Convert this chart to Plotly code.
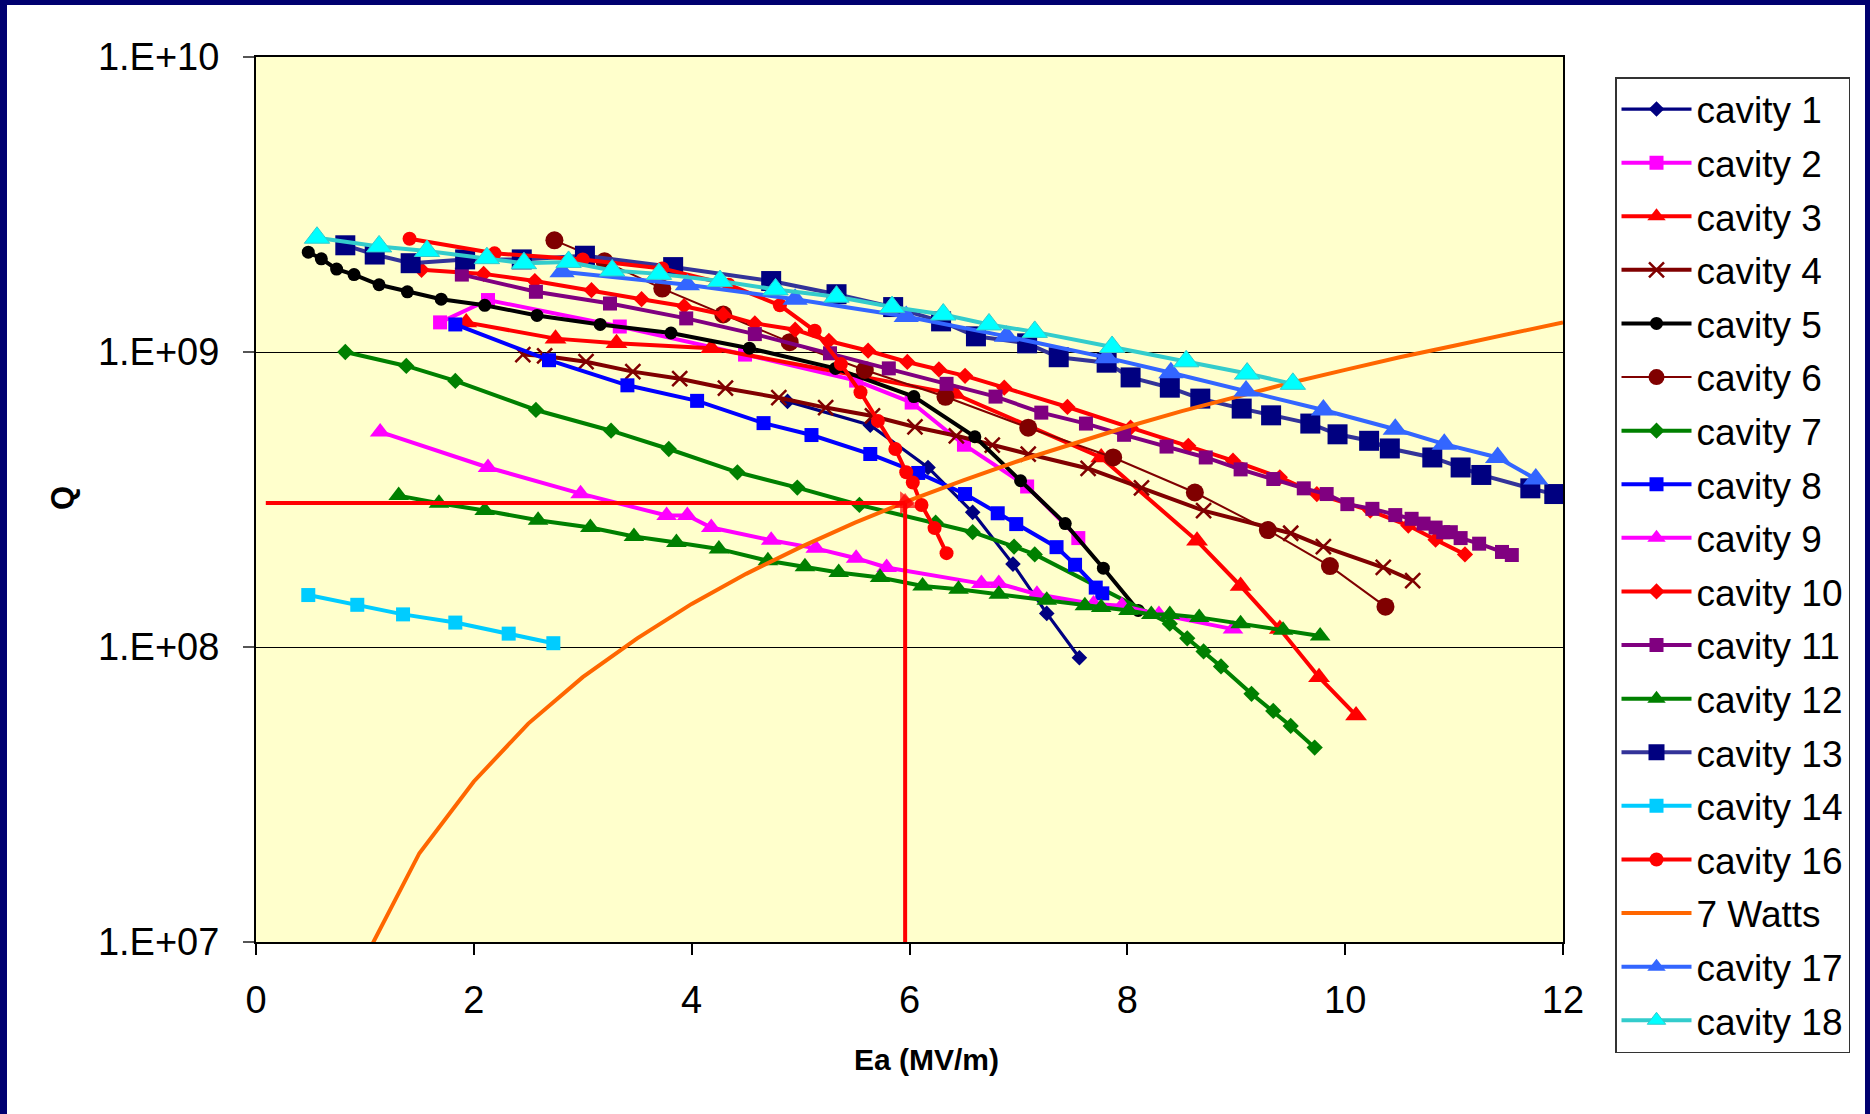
import plotly.graph_objects as go

# ---------------- data ----------------
cavity1_ea = [4.88, 5.64, 6.17, 6.58, 6.95, 7.26, 7.56]
cavity1_q = [6.8e8, 5.65e8, 4.06e8, 2.86e8, 1.91e8, 1.30e8, 9.2e7]

cavity2_ea = [1.69, 2.13, 3.34, 4.49, 5.51, 6.02, 6.50, 7.08, 7.55]
cavity2_q = [1.26e9, 1.50e9, 1.22e9, 9.8e8, 8.0e8, 6.74e8, 4.85e8, 3.5e8, 2.34e8]

cavity3_ea = [1.93, 2.75, 3.31, 4.18, 6.42, 7.76, 8.64, 9.04, 9.40, 9.76, 10.10]
cavity3_q = [1.26e9, 1.11e9, 1.07e9, 1.03e9, 7.2e8, 4.39e8, 2.29e8, 1.61e8, 1.15e8, 7.9e7, 5.86e7]

cavity4_ea = [2.45, 2.65, 3.03, 3.46, 3.89, 4.31, 4.80, 5.23, 5.66, 6.05, 6.43, 6.76,
              7.09, 7.64, 8.13, 8.70, 9.50, 9.80, 10.35, 10.62]
cavity4_q = [9.8e8, 9.7e8, 9.27e8, 8.58e8, 8.12e8, 7.54e8, 7.0e8, 6.48e8, 6.07e8, 5.57e8,
             5.2e8, 4.83e8, 4.51e8, 4.03e8, 3.46e8, 2.9e8, 2.43e8, 2.19e8, 1.86e8, 1.68e8]

cavity5_ea = [0.48, 0.60, 0.74, 0.90, 1.13, 1.39, 1.70, 2.10, 2.58, 3.16, 3.81, 4.53,
              5.32, 6.04, 6.60, 7.02, 7.43, 7.78, 8.10]
cavity5_q = [2.18e9, 2.07e9, 1.91e9, 1.83e9, 1.69e9, 1.60e9, 1.51e9, 1.44e9, 1.33e9,
             1.24e9, 1.16e9, 1.03e9, 8.8e8, 7.06e8, 5.16e8, 3.66e8, 2.62e8, 1.85e8, 1.33e8]

cavity6_ea = [2.74, 3.20, 3.73, 4.29, 4.90, 5.59, 6.33, 7.09, 7.87, 8.62, 9.29, 9.86, 10.37]
cavity6_q = [2.39e9, 2.03e9, 1.64e9, 1.34e9, 1.08e9, 8.69e8, 7.05e8, 5.54e8, 4.39e8,
             3.34e8, 2.49e8, 1.88e8, 1.37e8]

cavity7_ea = [0.82, 1.38, 1.83, 2.57, 3.26, 3.79, 4.42, 4.97, 5.54, 6.24, 6.58, 6.96,
              7.15, 8.39, 8.55, 8.70, 8.86, 9.14, 9.34, 9.50, 9.72]
cavity7_q = [1.0e9, 8.97e8, 7.98e8, 6.36e8, 5.41e8, 4.69e8, 3.91e8, 3.47e8, 3.03e8,
             2.64e8, 2.45e8, 2.19e8, 2.06e8, 1.2e8, 1.07e8, 9.66e7, 8.59e7, 6.94e7,
             6.07e7, 5.4e7, 4.56e7]

cavity8_ea = [1.83, 2.69, 3.41, 4.05, 4.66, 5.10, 5.64, 6.08, 6.51, 6.81, 6.98, 7.35,
              7.52, 7.71, 7.77]
cavity8_q = [1.24e9, 9.38e8, 7.71e8, 6.83e8, 5.74e8, 5.23e8, 4.51e8, 3.89e8, 3.30e8,
             2.84e8, 2.61e8, 2.18e8, 1.90e8, 1.59e8, 1.52e8]

cavity9_ea = [1.14, 2.13, 2.98, 3.77, 3.96, 4.18, 4.73, 5.14, 5.51, 5.79, 6.66, 6.82,
              7.17, 7.69, 7.95, 8.29, 8.97]
cavity9_q = [5.36e8, 4.06e8, 3.31e8, 2.79e8, 2.79e8, 2.54e8, 2.30e8, 2.16e8, 2.0e8,
             1.86e8, 1.64e8, 1.64e8, 1.51e8, 1.40e8, 1.38e8, 1.29e8, 1.15e8]

cavity10_ea = [1.52, 2.09, 2.56, 3.08, 3.54, 3.93, 4.29, 4.58, 4.95, 5.26, 5.62, 5.98,
               6.27, 6.51, 6.87, 7.45, 8.03, 8.56, 8.97, 9.40, 9.74, 10.23, 10.58,
               10.83, 11.10]
cavity10_q = [1.90e9, 1.84e9, 1.74e9, 1.62e9, 1.51e9, 1.43e9, 1.34e9, 1.25e9, 1.19e9,
              1.09e9, 1.01e9, 9.25e8, 8.73e8, 8.3e8, 7.57e8, 6.51e8, 5.54e8, 4.81e8,
              4.28e8, 3.76e8, 3.3e8, 2.9e8, 2.58e8, 2.31e8, 2.06e8]

cavity11_ea = [1.89, 2.57, 3.25, 3.95, 4.58, 5.27, 5.81, 6.34, 6.79, 7.21, 7.62, 7.97,
               8.36, 8.72, 9.04, 9.34, 9.62, 9.83, 10.02, 10.25, 10.46, 10.61, 10.72,
               10.83, 10.90, 10.97, 11.06, 11.23, 11.44, 11.53]
cavity11_q = [1.83e9, 1.60e9, 1.46e9, 1.30e9, 1.15e9, 9.9e8, 8.8e8, 7.8e8, 7.06e8,
              6.23e8, 5.72e8, 5.24e8, 4.78e8, 4.39e8, 4.0e8, 3.71e8, 3.45e8, 3.3e8,
              3.05e8, 2.94e8, 2.8e8, 2.72e8, 2.62e8, 2.54e8, 2.45e8, 2.45e8, 2.34e8,
              2.24e8, 2.10e8, 2.05e8]

cavity12_ea = [1.31, 1.68, 2.10, 2.59, 3.07, 3.47, 3.86, 4.25, 4.70, 5.04, 5.35, 5.73,
               6.12, 6.45, 6.82, 7.26, 7.61, 7.76, 8.01, 8.22, 8.39, 8.66, 9.04, 9.43, 9.77]
cavity12_q = [3.26e8, 3.07e8, 2.90e8, 2.69e8, 2.54e8, 2.37e8, 2.26e8, 2.15e8, 1.96e8,
              1.87e8, 1.79e8, 1.72e8, 1.61e8, 1.57e8, 1.51e8, 1.44e8, 1.38e8, 1.36e8,
              1.33e8, 1.29e8, 1.29e8, 1.26e8, 1.20e8, 1.14e8, 1.09e8]

cavity13_ea = [0.82, 1.09, 1.42, 1.92, 2.44, 3.02, 3.83, 4.73, 5.33, 5.85, 6.29, 6.61,
               7.08, 7.37, 7.81, 8.03, 8.39, 8.67, 9.05, 9.32, 9.68, 9.93, 10.22, 10.41,
               10.80, 11.06, 11.25, 11.70, 11.92, 12.2]
cavity13_q = [2.30e9, 2.14e9, 2.0e9, 2.06e9, 2.06e9, 2.12e9, 1.94e9, 1.74e9, 1.57e9,
              1.42e9, 1.27e9, 1.13e9, 1.07e9, 9.6e8, 9.2e8, 8.2e8, 7.57e8, 6.95e8,
              6.43e8, 6.1e8, 5.72e8, 5.26e8, 5.0e8, 4.71e8, 4.39e8, 4.06e8, 3.83e8,
              3.45e8, 3.3e8, 3.0e8]

cavity14_ea = [0.48, 0.93, 1.35, 1.83, 2.32, 2.73]
cavity14_q = [1.50e8, 1.39e8, 1.29e8, 1.21e8, 1.11e8, 1.03e8]

cavity16_ea = [1.41, 2.19, 3.00, 3.73, 4.34, 4.81, 5.13, 5.37, 5.55, 5.71, 5.87, 5.97,
               6.03, 6.11, 6.23, 6.34]
cavity16_q = [2.42e9, 2.16e9, 2.06e9, 1.92e9, 1.69e9, 1.44e9, 1.18e9, 9.1e8, 7.3e8,
              5.84e8, 4.69e8, 3.91e8, 3.61e8, 3.03e8, 2.53e8, 2.08e8]

watts7_ea = [1.0, 1.5, 2.0, 2.5, 3.0, 3.5, 4.0, 4.5, 5.0, 5.5, 6.0, 6.5, 7.0, 7.5, 8.0,
             8.5, 9.0, 9.5, 10.0, 10.5, 11.0, 11.5, 12.0]
watts7_q = [8.8e6, 2.0e7, 3.5e7, 5.5e7, 7.9e7, 1.07e8, 1.40e8, 1.77e8, 2.18e8, 2.64e8,
            3.14e8, 3.68e8, 4.27e8, 4.9e8, 5.58e8, 6.3e8, 7.06e8, 7.87e8, 8.7e8, 9.6e8,
            1.05e9, 1.15e9, 1.26e9]

cavity17_ea = [2.81, 3.96, 4.95, 5.97, 6.89, 7.81, 8.40, 9.09, 9.80, 10.46, 10.91, 11.40, 11.75]
cavity17_q = [1.87e9, 1.69e9, 1.51e9, 1.32e9, 1.13e9, 9.57e8, 8.5e8, 7.38e8, 6.36e8,
              5.47e8, 4.87e8, 4.39e8, 3.71e8]

cavity18_ea = [0.56, 1.13, 1.57, 2.12, 2.46, 2.87, 3.27, 3.70, 4.26, 4.77, 5.33, 5.84,
               6.31, 6.73, 7.15, 7.86, 8.54, 9.10, 9.52]
cavity18_q = [2.44e9, 2.28e9, 2.20e9, 2.08e9, 2.0e9, 2.02e9, 1.89e9, 1.84e9, 1.74e9,
              1.63e9, 1.54e9, 1.42e9, 1.34e9, 1.24e9, 1.17e9, 1.04e9, 9.3e8, 8.45e8, 7.8e8]

# operating point marked by the red arrows
ref_ea = 5.96
ref_q = 3.08e8
ref_start_ea = 0.09
q_min = 1e7

x_ticks = [0, 2, 4, 6, 8, 10, 12]
y_tickvals = [1e7, 1e8, 1e9, 1e10]
y_ticktext = ["1.E+07", "1.E+08", "1.E+09", "1.E+10"]

# ---------------- styling ----------------
FONT = "Liberation Sans, Arial, sans-serif"
W, H = 1870, 1114
ML, MR, MT, MB = 256, 307, 57, 172
PW, PH = W - ML - MR, H - MT - MB

series = [
    # name, x, y, line colour, marker colour, symbol, size, line width
    ("cavity 1", cavity1_ea, cavity1_q, "#000080", "#000080", "diamond", 12, 3.2),
    ("cavity 2", cavity2_ea, cavity2_q, "#FF00FF", "#FF00FF", "square", 14, 4),
    ("cavity 3", cavity3_ea, cavity3_q, "#FF0000", "#FF0000", "triangle-up", 19, 4),
    ("cavity 4", cavity4_ea, cavity4_q, "#800000", "#800000", "x-thin", 15, 4),
    ("cavity 5", cavity5_ea, cavity5_q, "#000000", "#000000", "circle", 13, 4),
    ("cavity 6", cavity6_ea, cavity6_q, "#800000", "#800000", "circle", 18, 2),
    ("cavity 7", cavity7_ea, cavity7_q, "#008000", "#008000", "diamond", 12.5, 4),
    ("cavity 8", cavity8_ea, cavity8_q, "#0000FF", "#0000FF", "square", 14, 4),
    ("cavity 9", cavity9_ea, cavity9_q, "#FF00FF", "#FF00FF", "triangle-up", 18, 4),
    ("cavity 10", cavity10_ea, cavity10_q, "#FF0000", "#FF0000", "diamond", 12.5, 4),
    ("cavity 11", cavity11_ea, cavity11_q, "#800080", "#800080", "square", 14, 4),
    ("cavity 12", cavity12_ea, cavity12_q, "#008000", "#008000", "triangle-up", 18, 4),
    ("cavity 13", cavity13_ea, cavity13_q, "#333399", "#000080", "square", 20, 4),
    ("cavity 14", cavity14_ea, cavity14_q, "#00CCFF", "#00CCFF", "square", 14, 4),
    ("cavity 16", cavity16_ea, cavity16_q, "#FF0000", "#FF0000", "circle", 14, 4),
    ("7 Watts", watts7_ea, watts7_q, "#FF6600", None, None, 0, 4),
    ("cavity 17", cavity17_ea, cavity17_q, "#3366FF", "#3366FF", "triangle-up", 22, 4),
    ("cavity 18", cavity18_ea, cavity18_q, "#33CCCC", "#00FFFF", "triangle-up", 22, 4),
]

fig = go.Figure()
for i, (name, xs, ys, lc, mc, sym, size, lw) in enumerate(series):
    if sym is None:
        mode = "lines"
        marker = None
    else:
        mode = "lines+markers"
        if sym == "x-thin":
            marker = dict(symbol=sym, size=size, color=mc, line=dict(color=mc, width=2.5))
        elif name == "cavity 18":
            marker = dict(symbol=sym, size=size, color=mc, line=dict(color=lc, width=1))
        else:
            marker = dict(symbol=sym, size=size, color=mc, line=dict(width=0))
    fig.add_trace(go.Scatter(
        x=xs, y=ys, name=name, mode=mode, legendgroup=f"g{i}",
        line=dict(color=lc, width=lw), marker=marker,
    ))

# red arrows pointing at the operating point on the 7 W curve
fig.add_trace(go.Scatter(
    x=[ref_start_ea, ref_ea], y=[ref_q, ref_q], mode="lines+markers",
    line=dict(color="#FF0000", width=4), showlegend=False, hoverinfo="skip",
    marker=dict(symbol="triangle-right", size=[0, 20], color="#FF0000", line=dict(width=0)),
))
fig.add_trace(go.Scatter(
    x=[ref_ea, ref_ea], y=[q_min, ref_q], mode="lines+markers",
    line=dict(color="#FF0000", width=4), showlegend=False, hoverinfo="skip",
    marker=dict(symbol="triangle-up", size=[0, 20], color="#FF0000", line=dict(width=0)),
))

# navy frame around the slide
def px_x(px):
    return (px - ML) / PW

def px_y(py):
    return (H - MB - py) / PH

frame = "#000070"
shapes = [
    dict(type="rect", xref="paper", yref="paper", x0=px_x(0), x1=px_x(7), y0=px_y(H), y1=px_y(0),
         fillcolor=frame, line=dict(width=0), layer="above"),
    dict(type="rect", xref="paper", yref="paper", x0=px_x(0), x1=px_x(W), y0=px_y(5), y1=px_y(0),
         fillcolor=frame, line=dict(width=0), layer="above"),
    dict(type="rect", xref="paper", yref="paper", x0=px_x(W - 5), x1=px_x(W), y0=px_y(H), y1=px_y(0),
         fillcolor=frame, line=dict(width=0), layer="above"),
]

annotations = [
    dict(text="<b>Ea (MV/m)</b>", xref="paper", yref="paper", x=px_x(926), y=px_y(1059),
         xanchor="center", yanchor="middle", showarrow=False,
         font=dict(family=FONT, size=30, color="#000000")),
    dict(text="<b>Q</b>", xref="paper", yref="paper", x=px_x(62), y=px_y(498),
         xanchor="center", yanchor="middle", showarrow=False, textangle=-90,
         font=dict(family=FONT, size=31, color="#000000")),
]

fig.update_layout(
    width=W, height=H,
    margin=dict(l=ML, r=MR, t=MT, b=MB, autoexpand=False),
    paper_bgcolor="#FFFFFF", plot_bgcolor="#FFFFCC",
    font=dict(family=FONT, color="#000000"),
    shapes=shapes, annotations=annotations,
    showlegend=True,
    legend=dict(
        x=px_x(1615), y=px_y(77), xanchor="left", yanchor="top",
        bgcolor="#FFFFFF", bordercolor="#333333", borderwidth=1.5,
        font=dict(family=FONT, size=37, color="#000000"),
        tracegroupgap=2.5, itemwidth=70, traceorder="grouped", maxheight=1030,
    ),
    xaxis=dict(
        range=[0, 12], tickvals=x_ticks, ticks="outside", ticklen=11, tickwidth=1.5,
        tickcolor="#000000", showgrid=False, zeroline=False,
        showline=True, linecolor="#000000", linewidth=2, mirror=True,
        tickfont=dict(family=FONT, size=38, color="#000000"), ticklabelstandoff=12,
    ),
    yaxis=dict(
        type="log", range=[7, 10], tickvals=y_tickvals, ticktext=y_ticktext,
        ticks="outside", ticklen=11, tickwidth=1.5, tickcolor="#555555",
        showgrid=True, gridcolor="#000000", gridwidth=1, zeroline=False,
        showline=True, linecolor="#000000", linewidth=2, mirror=True,
        tickfont=dict(family=FONT, size=38, color="#000000"), ticklabelstandoff=16,
    ),
)

fig.write_html("out.html")
